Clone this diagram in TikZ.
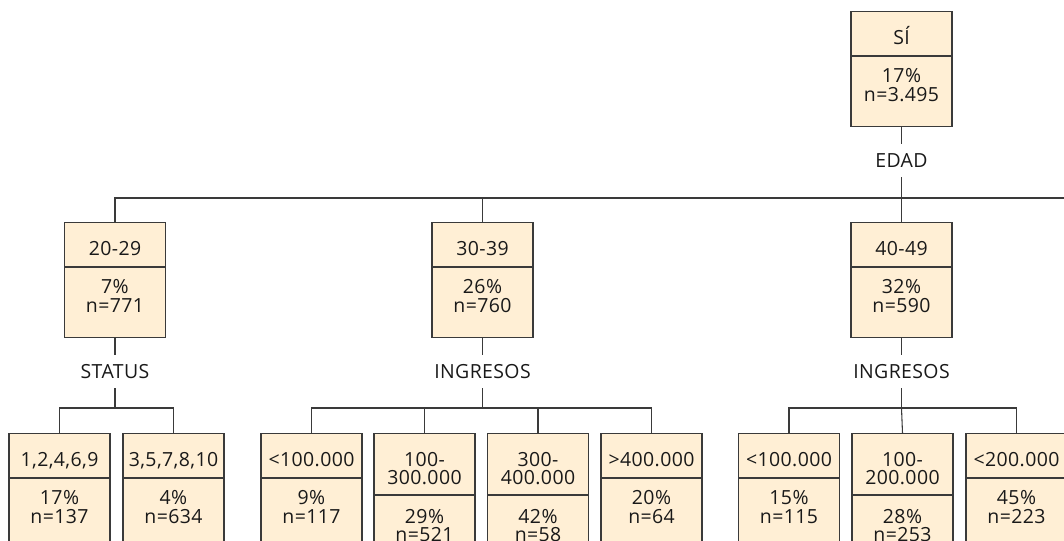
\documentclass[tikz,border=0pt]{standalone}
\usepackage{fontspec}
\newfontfamily\treefont{Open Sans}[LetterSpace=2]
\definecolor{boxfill}{HTML}{FFEFD5}
\definecolor{boxline}{HTML}{3A3A3A}
\definecolor{connline}{HTML}{3A3A3A}
\newcommand\tfont{\treefont\fontsize{14.6pt}{16pt}\selectfont}
\tikzset{
  hdrbox/.style={draw=boxline, fill=boxfill, anchor=north, minimum width=101*0.75pt, inner sep=0pt, line width=0.8pt},
  bodybox/.style={hdrbox, minimum height=70*0.75pt},
  txt/.style={anchor=base, inner sep=0pt, font=\tfont, text=black!90},
  lab/.style={anchor=base, inner sep=0pt, font=\tfont, text=black!90, text height=23*0.75pt, text depth=10*0.75pt},
  conn/.style={draw=connline, line width=0.8pt}
}
\newcommand\tboxA[6]{%
  \node[hdrbox, minimum height=44*0.75pt] (#1h) at (#2,#3) {};
  \node[bodybox] (#1b) at (#1h.south) {};
  \node[txt] (#1t) at (#2,#3+33) {#4};
  \node[txt] (#1p) at (#2,#3+44+27) {#5};
  \node[txt] (#1n) at (#2,#3+44+46) {#6};
}
\newcommand\tboxB[7]{%
  \node[hdrbox, minimum height=61*0.75pt] (#1h) at (#2,#3) {};
  \node[bodybox] (#1b) at (#1h.south) {};
  \node[txt] (#1t) at (#2,#3+33) {#4};
  \node[txt] (#1u) at (#2,#3+51) {#5};
  \node[txt] (#1p) at (#2,#3+61+29) {#6};
  \node[txt] (#1n) at (#2,#3+61+47) {#7};
}
\begin{document}
\begin{tikzpicture}[x=0.75pt, y=-0.75pt]
\useasboundingbox (0,0) rectangle (1064,540);
\clip (0,0) rectangle (1064,540);
% root
\tboxA{r}{901.5}{11}{SÍ}{17\%}{n=3.495}
% level 1
\tboxA{a}{115}{222}{20-29}{7\%}{n=771}
\tboxA{b}{482.5}{222}{30-39}{26\%}{n=760}
\tboxA{c}{901.5}{222}{40-49}{32\%}{n=590}
% level 2
\tboxA{aa}{59.5}{433}{1,2,4,6,9}{17\%}{n=137}
\tboxA{ab}{173.5}{433}{3,5,7,8,10}{4\%}{n=634}
\tboxA{ba}{311.5}{433}{<100.000}{9\%}{n=117}
\tboxB{bb}{424.5}{433}{100-}{300.000}{29\%}{n=521}
\tboxB{bc}{538}{433}{300-}{400.000}{42\%}{n=58}
\tboxA{bd}{651.5}{433}{>400.000}{20\%}{n=64}
\tboxA{ca}{789}{433}{<100.000}{15\%}{n=115}
\tboxB{cb}{902.5}{433}{100-}{200.000}{28\%}{n=253}
\tboxA{cc}{1016.5}{433}{<200.000}{45\%}{n=223}
% split labels
\node[lab] (edad) at (901.5,167) {EDAD};
\node[lab] (status) at (115,378) {STATUS};
\node[lab] (ingb) at (482.5,378) {INGRESOS};
\node[lab] (ingc) at (901.5,378) {INGRESOS};
% bus coordinates
\coordinate (bus1) at (901.5,198);
\coordinate (busR) at (1070,198);
\coordinate (busA) at (115,408);
\coordinate (busB) at (482.5,408);
\coordinate (busC) at (901.5,408);
% level 0 -> 1
\draw[conn] (rb.south) -- (edad.north);
\draw[conn] (edad.south) -- (bus1);
\draw[conn] (ah.north) |- (busR);
\draw[conn] (bh.north) -- (bh.north |- bus1);
\draw[conn] (ch.north) -- (bus1);
% 20-29
\draw[conn] (ab.south) -- (status.north);
\draw[conn] (status.south) -- (busA);
\draw[conn] (aah.north) |- (busA) -| (abh.north);
% 30-39
\draw[conn] (bb.south) -- (ingb.north);
\draw[conn] (ingb.south) -- (busB);
\draw[conn] (bah.north) |- (busB) -| (bdh.north);
\draw[conn] (bbh.north) -- (bbh.north |- busB);
\draw[conn] (bch.north) -- (bch.north |- busB);
% 40-49
\draw[conn] (cb.south) -- (ingc.north);
\draw[conn] (ingc.south) -- (busC);
\draw[conn] (cah.north) |- (busC) -| (cch.north);
\draw[conn] (busC) -- (cbh.north);
\end{tikzpicture}
\end{document}
